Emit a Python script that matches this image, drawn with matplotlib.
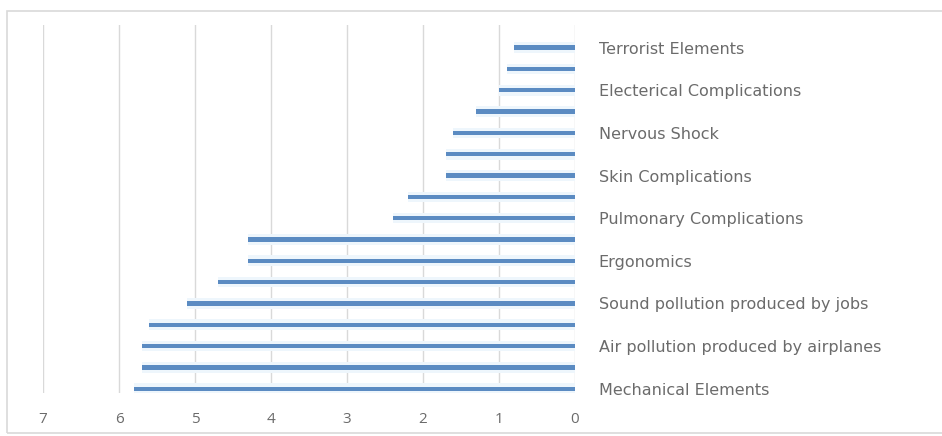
import matplotlib.pyplot as plt
from matplotlib.patches import Rectangle

plt.rcParams['font.family'] = ['Open Sans', 'DejaVu Sans']

# categories from top to bottom; only every other one is labelled in the chart
categories = [
    "Terrorist Elements", "",
    "Electerical Complications", "",
    "Nervous Shock", "",
    "Skin Complications", "",
    "Pulmonary Complications", "",
    "Ergonomics", "",
    "Sound pollution produced by jobs", "",
    "Air pollution produced by airplanes", "",
    "Mechanical Elements",
]
values = [0.8, 0.9, 1.0, 1.3, 1.6, 1.7, 1.7, 2.2, 2.4,
          4.3, 4.3, 4.7, 5.1, 5.6, 5.7, 5.7, 5.8]
x_ticks = [7, 6, 5, 4, 3, 2, 1, 0]

bar_color = "#5b8bc2"
text_color = "#6b6b6b"
grid_color = "#d9d9d9"

fig = plt.figure(figsize=(9.42, 4.36), dpi=100)
fig.patches.append(Rectangle((7 / 942, 0.007), 1.0, 1 - 11 / 436 - 0.007,
                             transform=fig.transFigure, fill=False,
                             edgecolor="#d9d9d9", linewidth=1.2))

ax = fig.add_axes([43 / 942, 43 / 436, 532 / 942, 368 / 436])

pos = list(range(len(values)))
# faint halo seen around each bar
ax.barh(pos, values, height=0.5, color="#eef6fc", zorder=1)
ax.barh(pos, values, height=0.2, color=bar_color, zorder=3)

ax.set_xlim(7, 0)
ax.set_ylim(16.2, -1.06)
ax.set_xticks(x_ticks)
ax.set_xticklabels([str(t) for t in x_ticks])
ax.grid(axis="x", color=grid_color, linewidth=1, zorder=0)
ax.set_axisbelow(True)

ax.yaxis.tick_right()
ax.set_yticks(pos)
ax.set_yticklabels(categories, family=['DejaVu Sans'], fontsize=11.5)
ax.tick_params(axis="y", length=0, pad=17, labelcolor=text_color)
ax.tick_params(axis="x", length=0, pad=14, labelsize=11, labelcolor=text_color)

for s in ax.spines.values():
    s.set_visible(False)

plt.savefig("out.png", dpi=100)
